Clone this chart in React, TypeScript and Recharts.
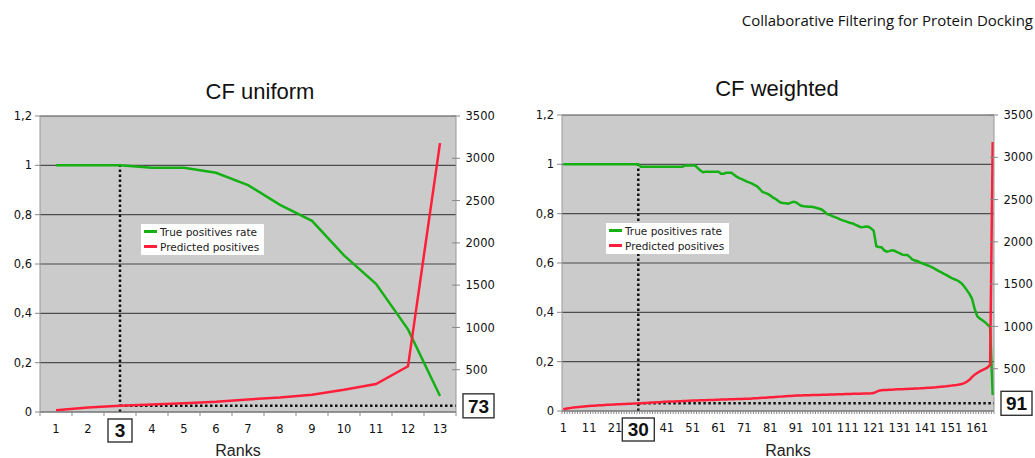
import { LineChart, Line, XAxis, YAxis, CartesianGrid, ReferenceLine, Legend } from 'recharts';

const GREEN = '#14b014';
const RED = '#ff1f3a';
const TICK_FONT = { fontSize: 11.5, fontFamily: 'DejaVu Sans', fill: '#111' };

const SERIES_NAMES = ['True positives rate', 'Predicted positives'];
const RATE_TICKS = [0, 0.2, 0.4, 0.6, 0.8, 1, 1.2];
const COUNT_TICKS = [500, 1000, 1500, 2000, 2500, 3000, 3500];

// CF uniform
const UNIFORM_RANKS = [1, 2, 3, 4, 5, 6, 7, 8, 9, 10, 11, 12, 13];
const UNIFORM_TPR = [1, 1, 1, 0.99, 0.99, 0.97, 0.92, 0.84, 0.775, 0.635, 0.52, 0.335, 0.065];
const UNIFORM_PREDICTED = [22, 52, 73, 88, 103, 120, 148, 172, 205, 262, 330, 540, 3180];
const UNIFORM_RANK_LABELS = [1, 2, 3, 4, 5, 6, 7, 8, 9, 10, 11, 12, 13];
const UNIFORM_CUTOFF = { rank: 3, predicted: 73 };

// CF weighted
const WEIGHTED_TPR = [
  1, 1, 1, 1, 1, 1, 1, 1, 1, 1,
  1, 1, 1, 1, 1, 1, 1, 1, 1, 1,
  1, 1, 1, 1, 1, 1, 1, 1, 1, 1,
  0.99, 0.99, 0.99, 0.99, 0.99, 0.99, 0.99, 0.99, 0.99, 0.99,
  0.99, 0.99, 0.99, 0.99, 0.99, 0.99, 0.99, 0.995, 0.995, 0.995,
  0.995, 0.995, 0.985, 0.975, 0.968, 0.97, 0.97, 0.97, 0.97, 0.97,
  0.97, 0.962, 0.962, 0.966, 0.966, 0.966, 0.958, 0.95, 0.944, 0.94,
  0.935, 0.93, 0.926, 0.922, 0.916, 0.91, 0.9, 0.888, 0.884, 0.88,
  0.874, 0.866, 0.86, 0.852, 0.845, 0.843, 0.842, 0.84, 0.845, 0.848,
  0.846, 0.838, 0.832, 0.83, 0.829, 0.828, 0.828, 0.826, 0.823, 0.82,
  0.816, 0.808, 0.798, 0.795, 0.79, 0.786, 0.782, 0.777, 0.773, 0.77,
  0.766, 0.762, 0.76, 0.755, 0.75, 0.745, 0.746, 0.748, 0.747, 0.74,
  0.73, 0.668, 0.665, 0.664, 0.652, 0.646, 0.648, 0.652, 0.65, 0.644,
  0.64, 0.634, 0.632, 0.632, 0.624, 0.614, 0.61, 0.607, 0.602, 0.598,
  0.594, 0.59, 0.585, 0.58, 0.574, 0.568, 0.563, 0.557, 0.552, 0.546,
  0.54, 0.535, 0.531, 0.525, 0.517, 0.505, 0.49, 0.475, 0.455, 0.415,
  0.385, 0.375, 0.368, 0.36, 0.35, 0.34, 0.065,
];
const WEIGHTED_PREDICTED = [
  20, 27, 33, 37, 41, 44, 47, 50, 53, 56,
  59, 61, 63, 65, 67, 69, 71, 73, 75, 76,
  78, 80, 81, 83, 84, 86, 87, 88, 90, 91,
  93, 95, 96, 98, 100, 101, 103, 104, 106, 108,
  109, 111, 112, 113, 115, 116, 117, 119, 120, 122,
  123, 124, 125, 126, 127, 128, 129, 130, 131, 133,
  134, 135, 136, 137, 138, 139, 140, 141, 142, 143,
  144, 145, 146, 148, 150, 152, 154, 156, 158, 160,
  162, 164, 166, 168, 170, 172, 174, 176, 178, 180,
  182, 183, 184, 185, 186, 187, 188, 188, 189, 190,
  191, 192, 193, 194, 195, 196, 197, 198, 199, 200,
  201, 202, 203, 204, 205, 205, 206, 207, 208, 209,
  212, 225, 240, 244, 247, 249, 251, 252, 254, 256,
  257, 258, 259, 260, 262, 263, 265, 267, 268, 270,
  272, 274, 276, 278, 280, 283, 286, 289, 292, 296,
  300, 304, 308, 313, 320, 330, 346, 368, 400, 430,
  450, 468, 484, 498, 515, 545, 3180,
];
const WEIGHTED_RANKS = WEIGHTED_TPR.map((_, i) => i + 1);
const WEIGHTED_RANK_LABELS = [1, 11, 21, 30, 41, 51, 61, 71, 81, 91, 101, 111, 121, 131, 141, 151, 161];
const WEIGHTED_CUTOFF = { rank: 30, predicted: 91 };

const fmtRate = (v: number) => String(v).replace('.', ',');

function RankTick(props: any) {
  const { x, y, payload, labels, cutoff, tickLen } = props;
  const v = payload.value as number;
  if (!Number.isInteger(v)) {
    return <line x1={x} x2={x} y1={y} y2={y + tickLen} stroke="#8a8a8a" strokeWidth={1} />;
  }
  if (v === cutoff) {
    const w = 16 + 8 * String(v).length;
    return (
      <g>
        <rect x={x - w / 2} y={y + 7} width={w} height={23} fill="#fff" stroke="#333" strokeWidth={1.4} />
        <text x={x} y={y + 25} textAnchor="middle" fontSize={19} fontWeight="bold" fontFamily="Liberation Sans" fill="#111">
          {v}
        </text>
      </g>
    );
  }
  if (!labels.includes(v)) return <g />;
  return (
    <text x={x} y={y + 21} textAnchor="middle" {...TICK_FONT}>
      {v}
    </text>
  );
}

function CountTick(props: any) {
  const { x, y, payload, cutoff } = props;
  const v = payload.value as number;
  if (v === cutoff) {
    return (
      <g>
        <rect x={x + 7} y={y - 12} width={31} height={24} fill="#fff" stroke="#333" strokeWidth={1.4} />
        <text x={x + 22.5} y={y + 7} textAnchor="middle" fontSize={19} fontWeight="bold" fontFamily="Liberation Sans" fill="#111">
          {v}
        </text>
      </g>
    );
  }
  return (
    <g>
      <line x1={x - 4} x2={x + 4} y1={y} y2={y} stroke="#888" />
      <text x={x + 9.5} y={y} dy="0.36em" textAnchor="start" {...TICK_FONT}>
        {v}
      </text>
    </g>
  );
}

function LegendBox({ payload }: any) {
  const items = [...(payload || [])].sort(
    (a: any, b: any) => SERIES_NAMES.indexOf(a.value) - SERIES_NAMES.indexOf(b.value),
  );
  return (
    <div
      style={{
        background: '#fff',
        width: 123,
        height: 31,
        boxSizing: 'border-box',
        paddingLeft: 3,
        fontFamily: 'DejaVu Sans',
        fontSize: 10.5,
        color: '#222',
      }}
    >
      {items.map((p: any) => (
        <div key={p.value} style={{ display: 'flex', alignItems: 'center', height: 15, whiteSpace: 'nowrap' }}>
          <span style={{ display: 'inline-block', width: 13, height: 3, background: p.color, marginRight: 3 }} />
          {p.value}
        </div>
      ))}
    </div>
  );
}

interface ChartProps {
  title: string;
  ranks: number[];
  tpr: number[];
  predicted: number[];
  rankLabels: number[];
  cutoff: { rank: number; predicted: number };
  left: number;
  width: number;
  leftAxisW: number;
  rightAxisW: number;
  plotTop: number;
  axisH: number;
  titleX: number;
  titleTop: number;
  ranksDx: number;
  legendLeft: number;
  legendTop: number;
  tickLen: number;
}

function RankChart(p: ChartProps) {
  const data = p.ranks.map((rank, i) => ({ rank, tpr: p.tpr[i], predicted: p.predicted[i] }));
  const last = p.ranks[p.ranks.length - 1];
  const bounds = [...p.ranks.map((r) => r - 0.5), last + 0.5];
  const xTicks = [...bounds, ...p.rankLabels].sort((a, b) => a - b);
  const dotted = { stroke: '#111', strokeWidth: 2.5, strokeDasharray: '2.5 2.5' };

  return (
    <div style={{ position: 'absolute', left: p.left, top: 0, width: p.width, height: 458 }}>
      <div
        style={{
          position: 'absolute',
          left: p.titleX - 150,
          width: 300,
          top: p.titleTop,
          textAlign: 'center',
          fontFamily: 'Liberation Sans',
          fontSize: 22,
          lineHeight: '22px',
          color: '#111',
        }}
      >
        {p.title}
      </div>
      <LineChart width={p.width} height={458} data={data} margin={{ top: p.plotTop, right: 0, bottom: 0, left: 0 }}>
        <CartesianGrid xAxisId="rank" yAxisId="rate" fill="#cbcbcb" fillOpacity={1} stroke="#4d4d4d" strokeWidth={1.2} vertical={false} />
        <XAxis
          xAxisId="rank"
          dataKey="rank"
          type="number"
          domain={[0.5, last + 0.5]}
          ticks={xTicks}
          interval={0}
          height={p.axisH}
          tickLine={false}
          tickSize={0}
          tickMargin={0}
          axisLine={{ stroke: '#888' }}
          tick={(tp: any) => <RankTick {...tp} labels={p.rankLabels} cutoff={p.cutoff.rank} tickLen={p.tickLen} />}
          label={{
            value: 'Ranks',
            position: 'insideBottom',
            offset: 2,
            dx: p.ranksDx,
            fontSize: 16,
            fontFamily: 'Liberation Sans',
            fill: '#222',
          }}
        />
        <YAxis
          yAxisId="rate"
          orientation="left"
          width={p.leftAxisW}
          domain={[0, 1.2]}
          ticks={RATE_TICKS}
          interval={0}
          tickFormatter={fmtRate}
          tickSize={5}
          tickMargin={3}
          axisLine={{ stroke: '#999' }}
          tickLine={{ stroke: '#888' }}
          tick={TICK_FONT}
        />
        <YAxis
          yAxisId="count"
          orientation="right"
          width={p.rightAxisW}
          domain={[0, 3500]}
          ticks={[p.cutoff.predicted, ...COUNT_TICKS]}
          interval={0}
          tickSize={0}
          tickMargin={0}
          tickLine={false}
          axisLine={{ stroke: '#999' }}
          tick={(tp: any) => <CountTick {...tp} cutoff={p.cutoff.predicted} />}
        />
        <ReferenceLine
          xAxisId="rank"
          yAxisId="rate"
          segment={[
            { x: p.cutoff.rank, y: 0 },
            { x: p.cutoff.rank, y: 1 },
          ]}
          {...dotted}
        />
        <ReferenceLine
          xAxisId="rank"
          yAxisId="count"
          segment={[
            { x: p.cutoff.rank, y: p.cutoff.predicted },
            { x: last + 0.5, y: p.cutoff.predicted },
          ]}
          {...dotted}
        />
        <Line
          xAxisId="rank"
          yAxisId="rate"
          type="linear"
          dataKey="tpr"
          name={SERIES_NAMES[0]}
          stroke={GREEN}
          strokeWidth={2.5}
          dot={false}
          isAnimationActive={false}
        />
        <Line
          xAxisId="rank"
          yAxisId="count"
          type="linear"
          dataKey="predicted"
          name={SERIES_NAMES[1]}
          stroke={RED}
          strokeWidth={2.5}
          dot={false}
          isAnimationActive={false}
        />
        <Legend
          layout="vertical"
          align="center"
          verticalAlign="middle"
          wrapperStyle={{ left: p.legendLeft, top: p.legendTop, width: 'auto' }}
          content={LegendBox}
        />
      </LineChart>
    </div>
  );
}

export default function App() {
  return (
    <div style={{ position: 'absolute', left: 0, top: 0, width: 1035, height: 458, background: '#fff', overflow: 'hidden' }}>
      <div
        style={{
          position: 'absolute',
          right: 2,
          top: 13,
          fontFamily: 'Open Sans',
          fontSize: 15,
          lineHeight: '15px',
          color: '#111',
          whiteSpace: 'nowrap',
        }}
      >
        Collaborative Filtering for Protein Docking
      </div>
      <RankChart
        title="CF uniform"
        ranks={UNIFORM_RANKS}
        tpr={UNIFORM_TPR}
        predicted={UNIFORM_PREDICTED}
        rankLabels={UNIFORM_RANK_LABELS}
        cutoff={UNIFORM_CUTOFF}
        left={0}
        width={520}
        leftAxisW={40}
        rightAxisW={64}
        plotTop={116}
        axisH={46}
        titleX={260}
        titleTop={81}
        ranksDx={-10}
        legendLeft={141}
        legendTop={224}
        tickLen={4}
      />
      <RankChart
        title="CF weighted"
        ranks={WEIGHTED_RANKS}
        tpr={WEIGHTED_TPR}
        predicted={WEIGHTED_PREDICTED}
        rankLabels={WEIGHTED_RANK_LABELS}
        cutoff={WEIGHTED_CUTOFF}
        left={520}
        width={515}
        leftAxisW={42}
        rightAxisW={41}
        plotTop={115}
        axisH={47}
        titleX={257}
        titleTop={78}
        ranksDx={10}
        legendLeft={86}
        legendTop={223}
        tickLen={3}
      />
    </div>
  );
}
